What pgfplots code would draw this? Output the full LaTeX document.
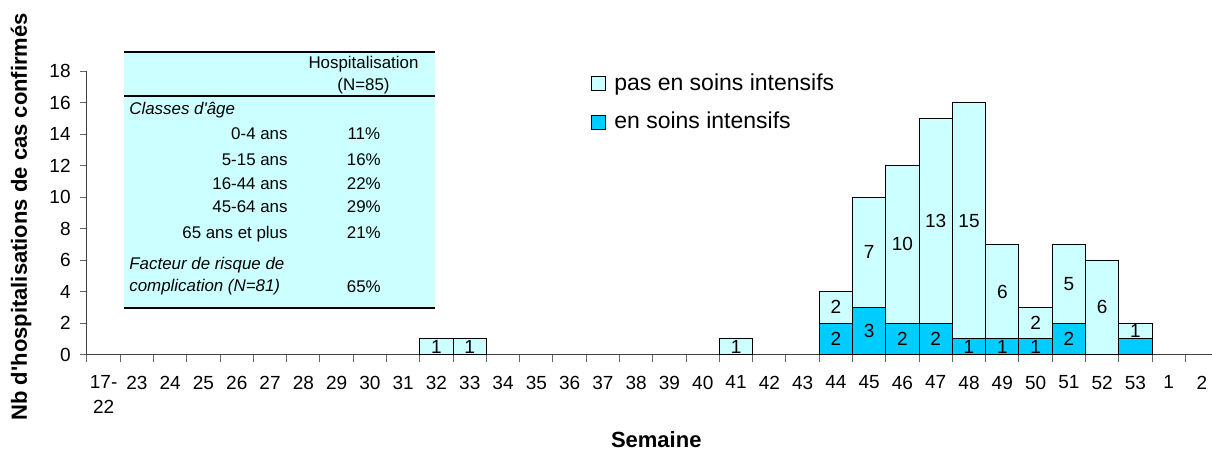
\documentclass[border=0pt]{standalone}
\usepackage{fontspec}
\setmainfont{Liberation Sans}[Ligatures=TeXOff]
\usepackage{pgfplots}
\pgfplotsset{compat=1.18}
\usepackage{pgfplotstable}
\definecolor{lightcyan}{HTML}{CCFFFF}
\definecolor{icu}{HTML}{00CCFF}

\pgfplotstableread{
x    y  lab
10.5 0  {}
11.5 0  {}
19.5 0  {}
22.5 2  2
23.5 3  3
24.5 2  2
25.5 2  2
26.5 1  1
27.5 1  1
28.5 1  1
29.5 2  2
30.5 0  {}
31.5 1  {}
}\intens
\pgfplotstableread{
x    y  lab
10.5 1  1
11.5 1  1
19.5 1  1
22.5 2  2
23.5 7  7
24.5 10 10
25.5 13 13
26.5 15 15
27.5 6  6
28.5 2  2
29.5 5  5
30.5 6  6
31.5 1  1
}\nonint

\begin{document}
\begin{tikzpicture}
\begin{axis}[
  scale only axis, width=562.5pt, height=141.75pt,
  xmin=0, xmax=33.8, ymin=0, ymax=18,
  axis x line*=bottom, axis y line*=left,
  axis line style={black!75, line width=0.5pt},
  tick align=outside,
  major tick length=3.5pt, minor tick length=3.5pt,
  /pgf/number format/assume math mode=true,
  ytick={0,2,...,18},
  ytick style={black!60, line width=0.5pt},
  xtick={0.5,1.5,...,33.5},
  xticklabels={{17-\\22},23,24,25,26,27,28,29,30,31,32,33,34,35,36,37,38,39,40,41,42,43,44,45,46,47,48,49,50,51,52,53,1,2},
  major x tick style={draw=none},
  minor xtick={0,1,...,33},
  minor x tick style={black!60, line width=0.5pt},
  ticklabel style={font=\fontsize{9.5}{12.25}\selectfont},
  xticklabel style={align=center, anchor=north, inner sep=0pt, yshift=-7pt},
  yticklabel style={anchor=east, inner sep=0pt, xshift=-4.5pt},
  every axis y label/.style={at={(axis description cs:0,0.5)}, xshift=-33pt, yshift=-2pt, rotate=90, anchor=center, font=\bfseries\fontsize{11}{13}\selectfont},
  every axis x label/.style={at={(axis description cs:0.506,0)}, yshift=-42.75pt, anchor=center, font=\bfseries\fontsize{11}{13}\selectfont},
  ylabel={Nb d'hospitalisations de cas confirmés},
  xlabel={Semaine},
  ybar stacked, bar width=1,
  point meta=explicit symbolic,
  nodes near coords,
  every node near coord/.append style={anchor=center, inner sep=0pt, font=\fontsize{9.5}{11}\selectfont, text=black},
  reverse legend,
  legend style={at={(axis cs:15.14,15.97)}, anchor=west, draw=none, fill=none, inner sep=0pt, row sep=9.2pt, font=\fontsize{11.5}{13}\selectfont, nodes={inner sep=0pt}},
  legend cell align=left,
  /tikz/every odd column/.append style={column sep=4pt},
  legend image code/.code={\draw[#1, draw=black, line width=0.5pt] (0pt,-3.5pt) rectangle (7pt,3.5pt);},
]
\addplot[fill=icu, draw=black, line width=0.5pt] table[x=x,y=y,meta=lab]{\intens};
\addlegendentry{en soins intensifs}
\addplot[fill=lightcyan, draw=black, line width=0.5pt] table[x=x,y=y,meta=lab]{\nonint};
\addlegendentry{pas en soins intensifs}
\end{axis}
\begin{scope}[shift={(-43.5pt,177.25pt)}, x=0.5pt, y=-0.5pt, font=\fontsize{8.45}{10}\selectfont]
\fill[lightcyan] (124,52) rectangle (435,308);
\draw[line width=1pt] (124,52) -- (435,52);
\draw[line width=1pt] (124,96) -- (435,96);
\draw[line width=1pt] (124,308) -- (435,308);
\node[anchor=base, inner sep=0pt] at (363.5,69) {Hospitalisation};
\node[anchor=base, inner sep=0pt] at (363.5,90.2) {(N=85)};
\node[anchor=base west, inner sep=0pt] at (129,115) {\itshape Classes d'âge};
\node[anchor=base east, inner sep=0pt] at (288,140) {0-4 ans};
\node[anchor=base east, inner sep=0pt] at (288,165.3) {5-15 ans};
\node[anchor=base east, inner sep=0pt] at (288,190) {16-44 ans};
\node[anchor=base east, inner sep=0pt] at (288,212.7) {45-64 ans};
\node[anchor=base east, inner sep=0pt] at (288,238.7) {65 ans et plus};
\node[anchor=base, inner sep=0pt] at (363.8,140) {11\%};
\node[anchor=base, inner sep=0pt] at (363.8,165.3) {16\%};
\node[anchor=base, inner sep=0pt] at (363.8,190) {22\%};
\node[anchor=base, inner sep=0pt] at (363.8,212.7) {29\%};
\node[anchor=base, inner sep=0pt] at (363.8,238.7) {21\%};
\node[anchor=base west, inner sep=0pt] at (129,270) {\itshape Facteur de risque de};
\node[anchor=base west, inner sep=0pt] at (129,292) {\itshape complication (N=81)};
\node[anchor=base, inner sep=0pt] at (363.8,292.5) {65\%};
\end{scope}
\pgfresetboundingbox
\useasboundingbox (-43.5pt,-47.75pt) rectangle (562.5pt,177.25pt);
\end{tikzpicture}
\end{document}
